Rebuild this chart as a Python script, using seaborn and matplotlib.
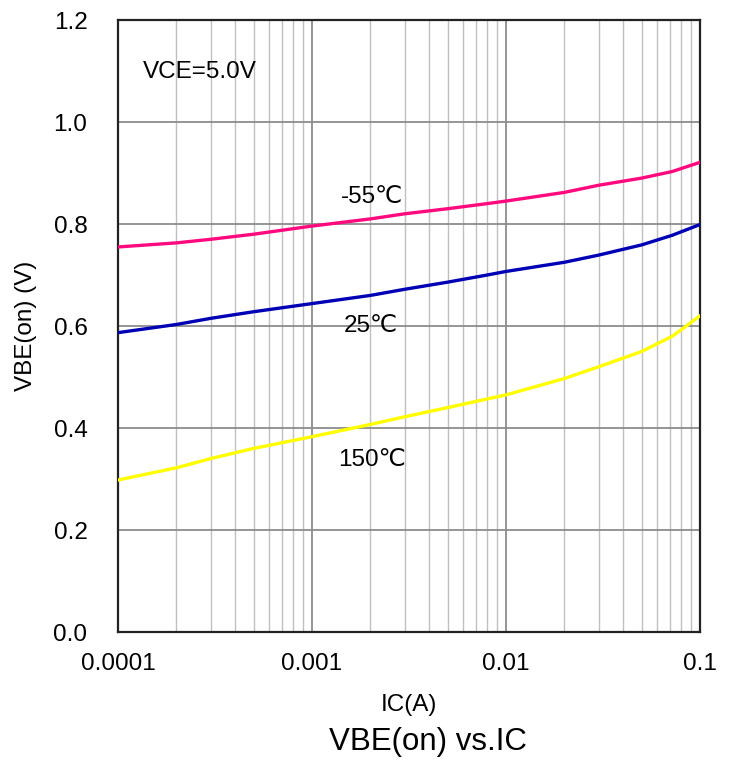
import numpy as np
import pandas as pd
import matplotlib
matplotlib.use("Agg")
import matplotlib.pyplot as plt
import seaborn as sns
from matplotlib.ticker import LogLocator, FixedLocator, NullFormatter

# Collector current (A) sample points
ic = [0.0001, 0.0002, 0.0003, 0.0005, 0.001, 0.002, 0.003, 0.005, 0.008, 0.01,
      0.02, 0.03, 0.05, 0.072, 0.1]

# VBE(on) (V) for each temperature
vbe_m55 = [0.755, 0.763, 0.770, 0.780, 0.796, 0.810, 0.820, 0.830, 0.840, 0.845,
           0.862, 0.876, 0.890, 0.903, 0.921]
vbe_25 = [0.587, 0.603, 0.615, 0.628, 0.644, 0.660, 0.672, 0.686, 0.700, 0.707,
          0.725, 0.739, 0.759, 0.778, 0.799]
vbe_150 = [0.298, 0.322, 0.340, 0.360, 0.383, 0.407, 0.422, 0.440, 0.457, 0.465,
           0.497, 0.520, 0.550, 0.580, 0.620]

temps = ["-55℃", "25℃", "150℃"]
colors = ["#FF0A7E", "#0000B4", "#FFFF00"]

x_ticks = [0.0001, 0.001, 0.01, 0.1]
x_tick_labels = ["0.0001", "0.001", "0.01", "0.1"]
y_ticks = [0.0, 0.2, 0.4, 0.6, 0.8, 1.0, 1.2]

df = pd.DataFrame({
    "IC": ic * 3,
    "VBE": vbe_m55 + vbe_25 + vbe_150,
    "Temp": [temps[0]] * len(ic) + [temps[1]] * len(ic) + [temps[2]] * len(ic),
})

sns.set_style("white")
plt.rcParams['font.family'] = ['Liberation Sans', 'DejaVu Sans']
plt.rcParams['text.color'] = 'black'
plt.rcParams['axes.labelcolor'] = 'black'
plt.rcParams['xtick.color'] = 'black'
plt.rcParams['ytick.color'] = 'black'

fig = plt.figure(figsize=(7.34, 7.61), dpi=100)
ax = fig.add_axes([0.1608, 0.1695, 0.7929, 0.8042])

ax.set_xscale("log")
sns.lineplot(data=df, x="IC", y="VBE", hue="Temp", palette=colors,
             hue_order=temps, linewidth=2.4, legend=False, ax=ax, zorder=3)

ax.set_xlim(0.0001, 0.1)
ax.set_ylim(0, 1.2)

ax.xaxis.set_major_locator(FixedLocator(x_ticks))
ax.set_xticklabels(x_tick_labels)
ax.xaxis.set_minor_locator(LogLocator(base=10, subs=np.arange(2, 10)))
ax.xaxis.set_minor_formatter(NullFormatter())
ax.set_yticks(y_ticks)
ax.set_yticklabels([f"{v:.1f}" for v in y_ticks])

ax.grid(which="major", color="#8c8c8c", linewidth=1.3, zorder=0)
ax.grid(which="minor", axis="x", color="#c0c0c0", linewidth=1.0, zorder=0)
ax.tick_params(axis="both", which="both", length=0, labelsize=17.5)
ax.tick_params(axis="x", pad=15)
ax.tick_params(axis="y", pad=22)

for s in ax.spines.values():
    s.set_color("#222222")
    s.set_linewidth(1.6)

ax.set_xlabel("IC(A)", fontsize=17.5, labelpad=14)
ax.set_ylabel("VBE(on) (V)", fontsize=17.5, labelpad=12)
fig.text(0.583, 0.025, "VBE(on) vs.IC", ha="center", va="center", fontsize=22.5)

ax.text(0.000135, 1.098, "VCE=5.0V", fontsize=17.5, va="center", ha="left")
ax.text(0.00205, 0.853, "-55℃", fontsize=17.5, va="center", ha="center")
ax.text(0.00200, 0.600, "25℃", fontsize=17.5, va="center", ha="center")
ax.text(0.00205, 0.337, "150℃", fontsize=17.5, va="center", ha="center")

fig.savefig("out.png", dpi=100)
